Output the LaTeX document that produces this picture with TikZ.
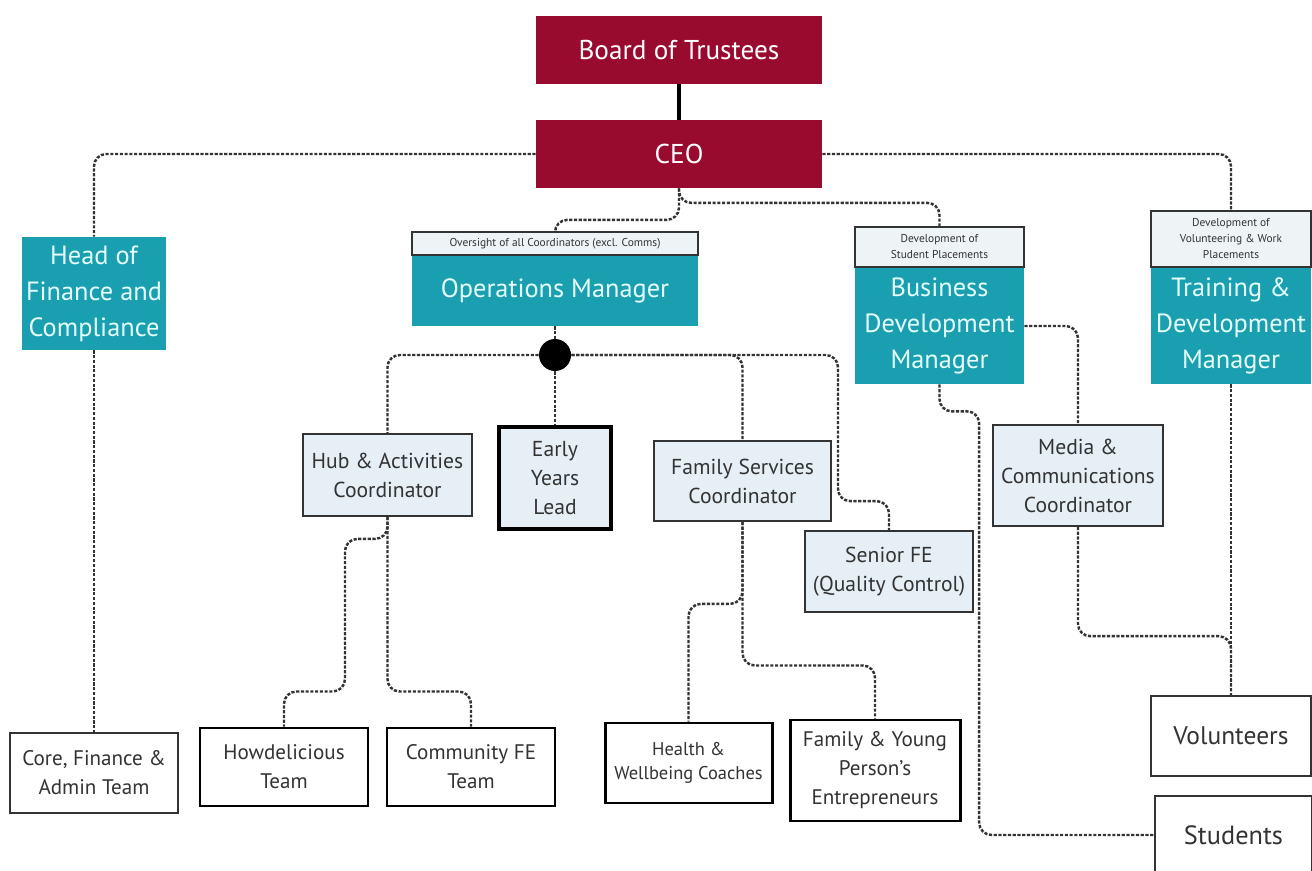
\documentclass[tikz,border=0pt]{standalone}
\usepackage{fontspec}
\setmainfont{PT Sans}
\usepackage{tikz}
\usetikzlibrary{calc}
\usetikzlibrary{positioning}
\definecolor{trustred}{HTML}{990A2F}
\definecolor{tealbox}{HTML}{1A9FB1}
\definecolor{tealtext}{HTML}{E6FFFF}
\definecolor{paleblue}{HTML}{E5EFF5}
\definecolor{tagfill}{HTML}{EEF3F6}
\definecolor{inkgray}{HTML}{333333}
\newcommand{\pnode}[4]{\node(#1)[#2] at (#3){#4}}

\begin{document}
\begin{tikzpicture}[
        x=0.02cm, y=-0.02cm,
        every node/.style={inner sep=0pt, align=center},
        sz/.style 2 args={minimum width=#1*0.02cm, minimum height=#2*0.02cm},
        board/.style={rectangle, fill=trustred, text=white, font=\fontsize{15.5}{18}\selectfont},
        head/.style={rectangle, fill=tealbox, text=tealtext, font=\fontsize{15}{20.5}\selectfont},
        tag/.style={rectangle, draw=inkgray, line width=1pt, fill=tagfill, text=inkgray,
                    font=\fontsize{6.5}{9}\selectfont},
        coord/.style={rectangle, draw=inkgray, line width=1pt, fill=paleblue, text=inkgray,
                      font=\fontsize{12.3}{16.5}\selectfont},
        team/.style={rectangle, draw=black, line width=1.7pt, fill=white, text=inkgray,
                     font=\fontsize{12}{16.5}\selectfont},
        plain/.style={rectangle, draw=inkgray, line width=0.9pt, fill=white, text=inkgray,
                      font=\fontsize{12}{16.5}\selectfont},
        link/.style={draw=inkgray, line width=1.4pt, dash pattern=on 1.8pt off 0.9pt,
                     rounded corners=7pt},
        dot/.style={circle, fill=black, minimum size=0.64cm}
      ]
      \useasboundingbox (0,0) rectangle (1312,871);

      % top of the tree
      \pnode{board}{board, sz={286}{68}}{679,50}{Board of Trustees};
      \pnode{ceo}{board, sz={286}{68}}{679,154}{CEO};

      % managers
      \pnode{finance}{head, sz={144}{113}}{94,293.5}{Head of\\Finance and\\Compliance};
      \pnode{ops}{head, sz={286}{70}}{555,291}{Operations Manager};
      \node(opstag)[tag, sz={286}{23}, above=0pt of ops]{Oversight of all Coordinators (excl. Comms)};
      \pnode{biz}{head, sz={169}{116}}{939.5,326}{Business\\Development\\Manager};
      \node(biztag)[tag, sz={169}{40}, above=0pt of biz]{Development of\\Student Placements};
      \pnode{train}{head, sz={160}{116}}{1231,326}{Training \&\\Development\\Manager};
      \node(traintag)[tag, sz={160}{56}, above=0pt of train]{Development of\\Volunteering \& Work\\Placements};

      % coordinators
      \pnode{split}{dot}{555,355}{};
      \pnode{hubact}{coord, sz={169}{82}}{387.5,475}{Hub \& Activities\\Coordinator};
      \pnode{early}{coord, line width=1.8pt, draw=black, sz={112}{102}}{555,478}{Early\\Years\\Lead};
      \pnode{famserv}{coord, sz={177}{80}}{742.5,481}{Family Services\\Coordinator};
      \pnode{senior}{coord, sz={168}{81}}{889,571.5}{Senior FE\\(Quality Control)};
      \pnode{media}{coord, sz={170}{101}}{1078,475.5}{Media \&\\Communications\\Coordinator};

      % teams
      \pnode{core}{plain, sz={168}{80}}{94,773}{Core, Finance \&\\Admin Team};
      \pnode{howd}{team, sz={168}{78}}{284,767}{Howdelicious\\Team};
      \pnode{commfe}{team, sz={168}{78}}{471,767}{Community FE\\Team};
      \pnode{health}{team, sz={167}{80}, font=\fontsize{10.5}{14}\selectfont}{688.5,763}{Health \&\\Wellbeing Coaches};
      \pnode{famyoung}{team, sz={170}{101}}{875,770.5}{Family \& Young\\Person's\\Entrepreneurs};
      \pnode{volunteers}{plain, sz={160}{80}, font=\fontsize{14.5}{17}\selectfont}{1231,736}{Volunteers};
      \pnode{students}{plain, sz={157}{78}, font=\fontsize{15}{17}\selectfont}{1233.5,835}{Students};

      % connectors
      \draw[line width=2.2pt] (board.south) -- (ceo.north);
      \draw[link] (ceo.west) -| (finance.north);
      \draw[link] (ceo.east) -| (traintag.north);
      \draw[link] (ceo.south) |- ($(biztag.north)+(0,-23)$) -- (biztag.north);
      \draw[link] (ceo.south) |- ($(opstag.north)+(0,-11)$) -- (opstag.north);
      \draw[link] (finance.south) -- (core.north);

      \draw[link] (ops.south) -- (split);
      \draw[link] (split) -| (hubact.north);
      \draw[link] (split) -- (early.north);
      \draw[link] (split) -| (famserv.north);
      \draw[link] (split) -| ($(senior.north)+(-51,-29)$) -| (senior.north);

      \draw[link] (hubact.south) |- ($(commfe.north)+(0,-35)$) -- (commfe.north);
      \draw[link] (hubact.south) -- ++(0,22) -| ($(howd.north)+(61,-35)$) -| (howd.north);
      \draw[link] (famserv.south) -- ++(0,82) -| (health.north);
      \draw[link] (famserv.south) |- ($(famyoung.north)+(0,-53)$) -- (famyoung.north);

      \draw[link] (biz.east) -| (media.north);
      \draw[link] (biz.south) -- ++(0,27) -| ($(students.west)+(-175,0)$) -- (students.west);
      \draw[link] (media.south) |- ($(volunteers.north)+(0,-59)$) -- (volunteers.north);
      \draw[link] (train.south) -- (volunteers.north);
\end{tikzpicture}
\end{document}
